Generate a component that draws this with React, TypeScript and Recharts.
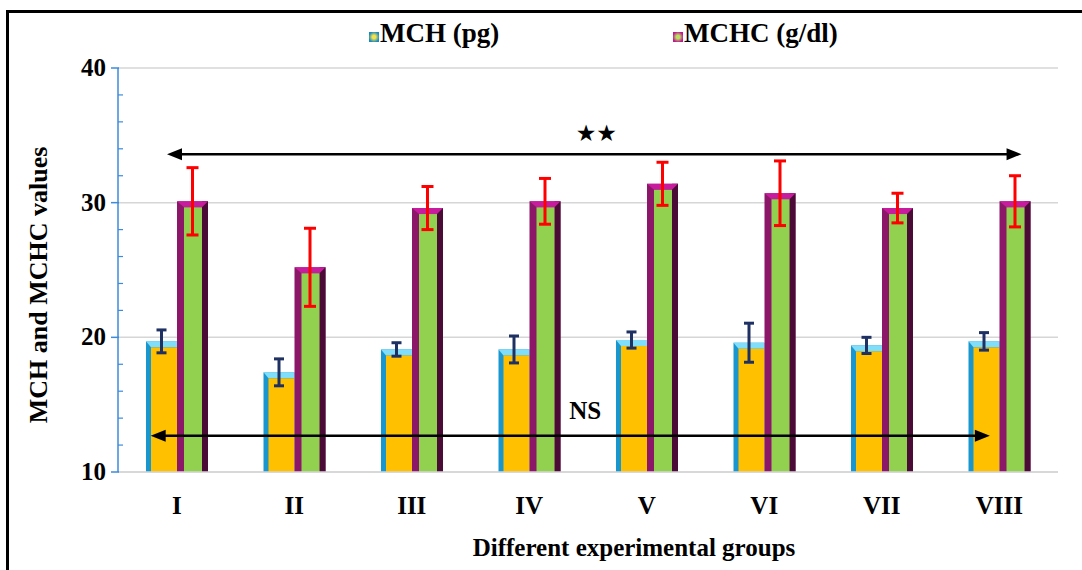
import React from 'react';
import {
  BarChart, Bar, XAxis, YAxis, CartesianGrid, ErrorBar, ReferenceLine, Legend, Label,
} from 'recharts';

const groups = ['I', 'II', 'III', 'IV', 'V', 'VI', 'VII', 'VIII'];
const mch = [19.7, 17.4, 19.1, 19.1, 19.8, 19.6, 19.4, 19.7];
const mchErr = [0.85, 1.0, 0.5, 1.0, 0.6, 1.45, 0.6, 0.65];
const mchc = [30.1, 25.2, 29.6, 30.1, 31.4, 30.7, 29.6, 30.1];
const mchcErr = [2.5, 2.9, 1.6, 1.7, 1.6, 2.4, 1.1, 1.9];
const seriesNames = ['MCH (pg)', 'MCHC (g/dl)'];

const yTicks = [10, 12, 14, 16, 18, 20, 22, 24, 26, 28, 30, 32, 34, 36, 38, 40];
const majorTicks = [10, 20, 30, 40];

// significance arrows, x on a 0..8 group scale
const sigArrow = { from: 0.417, to: 7.69, y: 33.6, text: '★★' };
const nsArrow = { from: 0.278, to: 7.42, y: 12.7, text: 'NS' };

const data = groups.map((g, i) => ({
  group: g, mch: mch[i], mchErr: mchErr[i], mchc: mchc[i], mchcErr: mchcErr[i],
}));

const FONT = '"Liberation Serif", "Times New Roman", serif';
const axisBlue = '#3D8BDB';
const TICK_SIZE = 7;
const TICK_MARGIN = 6;

function MchShape(p: any) {
  const { x, y, width, height } = p;
  if (!height || height <= 0) return null;
  const side = 5, top = 6;
  return (
    <g>
      <rect x={x} y={y} width={width} height={height} fill="#1A96CE" />
      <polygon points={`${x},${y} ${x + width},${y} ${x + width},${y + top} ${x + side},${y + top}`} fill="#80DEFA" />
      <rect x={x + side} y={y + top} width={width - side} height={height - top} fill="#FFC000" />
    </g>
  );
}

function MchcShape(p: any) {
  const { x, y, width, height } = p;
  if (!height || height <= 0) return null;
  const side = 7, right = 6, top = 6;
  return (
    <g>
      <rect x={x} y={y} width={width} height={height} fill="#8C1768" />
      <rect x={x + width - right} y={y} width={right} height={height} fill="#4A0B37" />
      <polygon points={`${x},${y} ${x + width},${y} ${x + width - right},${y + top} ${x + side},${y + top}`} fill="#C81C9E" />
      <rect x={x + side} y={y + top} width={width - side - right} height={height - top} fill="#92D050" />
    </g>
  );
}

function ArrowLine(p: any) {
  const { x1, y1, x2, y2 } = p;
  const h = 15, w = 6;
  return (
    <g>
      <line x1={x1 + h - 2} y1={y1} x2={x2 - h + 2} y2={y2} stroke="#000" strokeWidth={2.5} />
      <polygon points={`${x1},${y1} ${x1 + h},${y1 - w} ${x1 + h},${y1 + w}`} fill="#000" />
      <polygon points={`${x2},${y2} ${x2 - h},${y2 - w} ${x2 - h},${y2 + w}`} fill="#000" />
    </g>
  );
}

function arrowLabel(text: string, dx: number, dy: number, font: string, size: number) {
  return (p: any) => {
    const vb = p.viewBox || {};
    const cx = (vb.x ?? 0) + (vb.width ?? 0) / 2;
    return (
      <text x={cx + dx} y={(vb.y ?? 0) + dy} textAnchor="middle" fontFamily={font}
        fontWeight="bold" fontSize={size} fill="#000">{text}</text>
    );
  };
}

function YTick(p: any) {
  const { x, y, payload } = p;
  const ax = x + TICK_SIZE + TICK_MARGIN;
  if (majorTicks.includes(payload.value)) {
    return (
      <g>
        <line x1={ax - 7} x2={ax + 1} y1={y} y2={y} stroke={axisBlue} strokeWidth={1.5} />
        <text x={ax - 12} y={y + 8} textAnchor="end" fontFamily={FONT} fontWeight="bold"
          fontSize={25} fill="#000">{payload.value}</text>
      </g>
    );
  }
  return <line x1={ax} x2={ax + 5} y1={y} y2={y} stroke={axisBlue} strokeWidth={1.2} />;
}

function XTick(p: any) {
  const { x, y, payload } = p;
  return (
    <text x={x} y={y + 34} textAnchor="middle" fontFamily={FONT} fontWeight="bold"
      fontSize={25} fill="#000">{payload.value}</text>
  );
}

function LegendBox() {
  const icon = (outer: string, inner: string) => ({
    position: 'absolute' as const, top: 14, left: -11, width: 10, height: 10,
    background: `radial-gradient(circle, ${inner} 0%, ${inner} 25%, ${outer} 75%)`,
  });
  const item = (left: number, name: string, outer: string, inner: string) => (
    <div style={{ position: 'absolute', left, top: 0, fontFamily: FONT, fontWeight: 'bold',
      fontSize: 27, lineHeight: '30px', whiteSpace: 'nowrap', color: '#000' }}>
      <span style={icon(outer, inner)} />
      {name}
    </div>
  );
  return (
    <div style={{ position: 'relative', width: 1082, height: 34 }}>
      {item(380, seriesNames[0], '#1589C4', '#F4E04A')}
      {item(684, seriesNames[1], '#C0168F', '#B8E060')}
    </div>
  );
}

export default function App() {
  return (
    <div style={{ position: 'absolute', left: 0, top: 0, width: 1082, height: 570, background: '#fff', overflow: 'hidden' }}>
      <div style={{ position: 'absolute', left: 6, top: 10, width: 1100, height: 600, border: '3px solid #000' }} />
      <div style={{ position: 'absolute', left: 0, top: 0 }}>
        <BarChart width={1082} height={570} data={data} barGap={0} barSize={31}
          margin={{ top: 68, right: 24, bottom: 68, left: 58 }}>
          <CartesianGrid vertical={false} horizontalValues={majorTicks} stroke="#D6D6D6" strokeWidth={1.5} />
          <XAxis dataKey="group" tickLine={false} axisLine={{ stroke: '#D6D6D6', strokeWidth: 1.5 }}
            tick={<XTick />} height={30} interval={0}>
            <Label content={(p: any) => {
              const vb = p.viewBox;
              return (
                <text x={vb.x + vb.width / 2 + 46} y={vb.y + 84} textAnchor="middle" fontFamily={FONT}
                  fontWeight="bold" fontSize={25} fill="#000">Different experimental groups</text>
              );
            }} />
          </XAxis>
          <XAxis xAxisId="g" dataKey="mch" type="number" domain={[0, 8]} hide allowDataOverflow />
          <YAxis type="number" domain={[10, 40]} ticks={yTicks} interval={0} width={60}
            tickLine={false} tickSize={TICK_SIZE} tickMargin={TICK_MARGIN}
            axisLine={{ stroke: axisBlue, strokeWidth: 1.5 }} tick={<YTick />}>
            <Label content={(p: any) => {
              const vb = p.viewBox;
              const cx = vb.x - 20;
              const cy = vb.y + vb.height / 2 + 15;
              return (
                <text x={cx} y={cy} transform={`rotate(-90, ${cx}, ${cy})`} textAnchor="middle"
                  dominantBaseline="central" fontFamily={FONT} fontWeight="bold" fontSize={26}
                  fill="#000">MCH and MCHC values</text>
              );
            }} />
          </YAxis>
          <Legend layout="vertical" align="center" verticalAlign="middle"
            wrapperStyle={{ top: 18, left: 0, width: 1082, height: 34 }} content={<LegendBox />} />
          <Bar dataKey="mch" name={seriesNames[0]} fill="#FFC000" shape={<MchShape />} isAnimationActive={false}>
            <ErrorBar dataKey="mchErr" width={5} stroke="#1F3163" strokeWidth={3} isAnimationActive={false} />
          </Bar>
          <Bar dataKey="mchc" name={seriesNames[1]} fill="#92D050" shape={<MchcShape />} isAnimationActive={false}>
            <ErrorBar dataKey="mchcErr" width={6} stroke="#FF0000" strokeWidth={3} isAnimationActive={false} />
          </Bar>
          <ReferenceLine xAxisId="g" segment={[{ x: sigArrow.from, y: sigArrow.y }, { x: sigArrow.to, y: sigArrow.y }]}
            shape={ArrowLine} ifOverflow="visible"
            label={<Label content={arrowLabel(sigArrow.text, 2, -13, '"DejaVu Sans", sans-serif', 23)} />} />
          <ReferenceLine xAxisId="g" segment={[{ x: nsArrow.from, y: nsArrow.y }, { x: nsArrow.to, y: nsArrow.y }]}
            shape={ArrowLine} ifOverflow="visible"
            label={<Label content={arrowLabel(nsArrow.text, 15, -17, FONT, 25)} />} />
        </BarChart>
      </div>
    </div>
  );
}
